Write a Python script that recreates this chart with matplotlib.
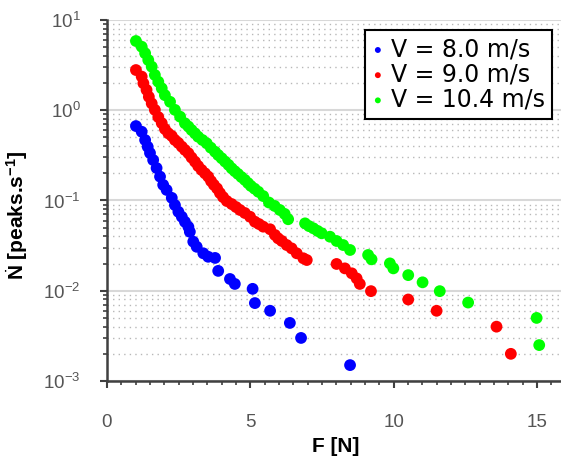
import numpy as np
import matplotlib
matplotlib.use('Agg')
import matplotlib.pyplot as plt
from matplotlib.ticker import MultipleLocator, LogLocator, NullFormatter

plt.rcParams['font.family'] = ['Liberation Sans', 'DejaVu Sans']
plt.rcParams['mathtext.fontset'] = 'custom'
plt.rcParams['mathtext.rm'] = 'Liberation Sans'
plt.rcParams['mathtext.it'] = 'Liberation Sans:italic'
plt.rcParams['mathtext.bf'] = 'Liberation Sans:bold'

# V = 8.0 m/s
f_8 = [1.01, 1.21, 1.33, 1.42, 1.50, 1.61, 1.73, 1.85, 1.96, 2.08, 2.26, 2.37,
       2.49, 2.61, 2.72, 2.84, 2.89, 3.01, 3.13, 3.36, 3.53, 3.77, 3.88, 4.29,
       4.46, 5.08, 5.16, 5.69, 6.38, 6.77, 8.48]
n_8 = [0.668, 0.578, 0.468, 0.394, 0.336, 0.281, 0.229, 0.184, 0.149, 0.131,
       0.107, 0.089, 0.075, 0.066, 0.058, 0.051, 0.045, 0.035, 0.0307, 0.026,
       0.0238, 0.0231, 0.0166, 0.0135, 0.0119, 0.0105, 0.0073, 0.0060, 0.0044,
       0.0030, 0.0015]

# V = 9.0 m/s
f_9 = [1.01, 1.21, 1.27, 1.38, 1.46, 1.56, 1.67, 1.79, 1.91, 2.02, 2.14, 2.26,
       2.37, 2.49, 2.61, 2.72, 2.84, 2.95, 3.07, 3.18, 3.30, 3.42, 3.53, 3.63,
       3.73, 3.84, 3.94, 4.05, 4.18, 4.35, 4.50, 4.64, 4.81, 4.99, 5.16, 5.30,
       5.45, 5.69, 5.86, 5.97, 6.10, 6.27, 6.44, 6.62, 6.85, 6.97, 8.01, 8.30,
       8.54, 8.71, 8.82, 9.21, 10.51, 11.50, 13.59, 14.09]
n_9 = [2.79, 2.36, 1.99, 1.68, 1.41, 1.19, 1.01, 0.84, 0.72, 0.62, 0.555, 0.519,
       0.468, 0.434, 0.395, 0.363, 0.334, 0.299, 0.269, 0.241, 0.218, 0.200,
       0.184, 0.164, 0.149, 0.136, 0.121, 0.109, 0.0987, 0.0914, 0.0847, 0.0785,
       0.0727, 0.0661, 0.0582, 0.0549, 0.0513, 0.0480, 0.0415, 0.0381, 0.0356,
       0.0321, 0.0295, 0.0260, 0.0229, 0.0219, 0.0198, 0.0177, 0.0156, 0.0137,
       0.0119, 0.0099, 0.0080, 0.0060, 0.0040, 0.0020]

# V = 10.4 m/s
f_10 = [1.01, 1.21, 1.33, 1.44, 1.56, 1.67, 1.79, 1.91, 2.02, 2.20, 2.37, 2.55,
        2.72, 2.84, 2.95, 3.07, 3.18, 3.33, 3.48, 3.62, 3.77, 3.88, 4.00, 4.12,
        4.24, 4.35, 4.46, 4.57, 4.69, 4.81, 4.92, 5.02, 5.15, 5.28, 5.45, 5.65,
        5.85, 6.03, 6.20, 6.32, 6.91, 7.05, 7.20, 7.35, 7.49, 7.78, 8.01, 8.24,
        8.48, 9.11, 9.23, 9.87, 9.99, 10.51, 11.01, 11.61, 12.60, 14.99, 15.08]
n_10 = [5.85, 5.06, 4.28, 3.60, 3.04, 2.46, 2.07, 1.75, 1.47, 1.24, 1.01, 0.849,
        0.717, 0.66, 0.604, 0.555, 0.509, 0.468, 0.430, 0.385, 0.347, 0.319,
        0.294, 0.270, 0.248, 0.227, 0.211, 0.197, 0.182, 0.169, 0.156, 0.145,
        0.135, 0.125, 0.112, 0.095, 0.087, 0.0785, 0.071, 0.062, 0.0558, 0.052,
        0.0492, 0.046, 0.0433, 0.0397, 0.0356, 0.0321, 0.0283, 0.0249, 0.0223,
        0.0201, 0.0177, 0.0149, 0.0124, 0.0099, 0.0074, 0.0050, 0.0025]

labels = ['V = 8.0 m/s', 'V = 9.0 m/s', 'V = 10.4 m/s']
colors = ['#0000ff', '#ff0000', '#00ff00']

fig = plt.figure(figsize=(5.61, 4.61), dpi=100)
ax = fig.add_axes([107/561, 80/461, 454/561, 361/461])

for f, n, lab, c in zip([f_8, f_9, f_10], [n_8, n_9, n_10], labels, colors):
    ax.scatter(f, n, s=72, color=c, edgecolors='none', label=lab, zorder=3)

ax.set_yscale('log')
ax.set_ylim(1e-3, 1e1)
ax.set_xlim(0, 15.84)
ax.set_xticks([0, 5, 10, 15])
ax.xaxis.set_minor_locator(MultipleLocator(0.5))
ax.yaxis.set_major_locator(LogLocator(base=10, numticks=10))
ax.yaxis.set_minor_locator(LogLocator(base=10, subs=np.arange(2, 10), numticks=20))
ax.yaxis.set_minor_formatter(NullFormatter())

# grid: solid decades, dotted minor (horizontal only)
ax.yaxis.grid(True, which='major', color='#d8d8d8', lw=1.5, ls='-', zorder=0)
ax.yaxis.grid(True, which='minor', color='#b8b8b8', lw=1.0, ls=(0, (1, 3)), zorder=0)

for side in ['top', 'right']:
    ax.spines[side].set_visible(False)
for side in ['left', 'bottom']:
    ax.spines[side].set_color('#404040')
    ax.spines[side].set_linewidth(1.8)

ax.tick_params(which='major', direction='out', length=5, width=1.5, color='#404040',
               labelsize=13.5, labelcolor='#555555')
ax.tick_params(which='minor', direction='out', length=3, width=1.2, color='#404040')
ax.tick_params(axis='x', which='major', pad=19)
ax.tick_params(axis='y', which='major', pad=14)

ax.set_xlabel('F [N]', fontsize=15, fontweight='bold')
ax.set_ylabel(r'$\dot{\mathbf{N}}$ [peaks.s$^{\mathbf{-1}}$]', fontsize=15,
              fontweight='bold')
ax.xaxis.set_label_coords(0.503, -0.155)
ax.yaxis.set_label_coords(-0.17, 0.46)

leg = ax.legend(loc='upper right', bbox_to_anchor=(0.98, 0.972), borderaxespad=0,
                prop={'family': 'DejaVu Sans', 'size': 17}, fancybox=False,
                framealpha=1, edgecolor='black', markerscale=0.5,
                handlelength=0.5, handletextpad=0.3, labelspacing=0.05,
                borderpad=0.3)
leg.get_frame().set_linewidth(1.5)

fig.savefig('out.png', dpi=100)
